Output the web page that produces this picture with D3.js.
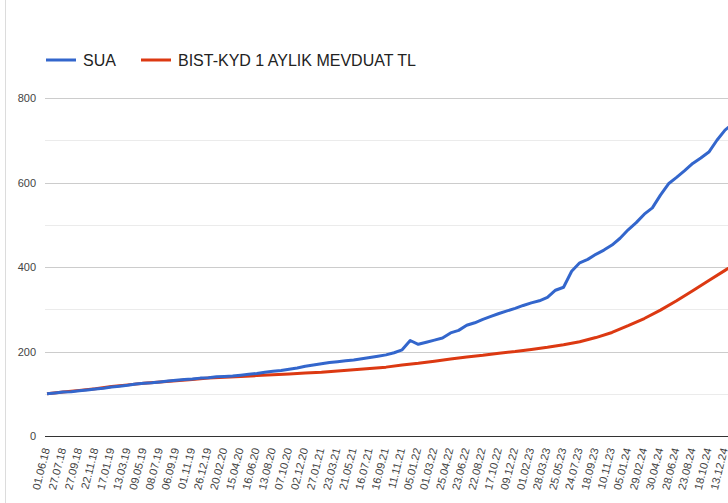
<!DOCTYPE html>
<html>
<head>
<meta charset="utf-8">
<script src="https://cdn.jsdelivr.net/npm/d3@7"></script>
<style>
  body { margin: 0; background: #fff; }
  svg { display: block; font-family: Arial, "Liberation Sans", sans-serif; }
</style>
</head>
<body>
<div id="chart"></div>
<script>
// tick labels on the x axis (one every ~40 trading days)
const dateLabels = [
  '01.06.18', '27.07.18', '27.09.18', '22.11.18', '17.01.19', '13.03.19', '09.05.19',
  '08.07.19', '06.09.19', '01.11.19', '26.12.19', '20.02.20', '15.04.20', '16.06.20',
  '13.08.20', '07.10.20', '02.12.20', '27.01.21', '23.03.21', '21.05.21', '16.07.21',
  '16.09.21', '11.11.21', '05.01.22', '01.03.22', '25.04.22', '23.06.22', '22.08.22',
  '17.10.22', '09.12.22', '01.02.23', '28.03.23', '25.05.23', '24.07.23', '18.09.23',
  '10.11.23', '05.01.24', '29.02.24', '30.04.24', '28.06.24', '23.08.24', '18.10.24',
  '13.12.24'
];

// SUA, read every half label step
const sua = [
  100, 102, 104, 105, 107, 109, 111, 113, 116, 118,
  120, 123, 125, 126, 128, 130, 132, 134, 135, 137,
  138, 140, 141, 142, 144, 146, 148, 151, 153, 155,
  158, 161, 165, 168, 171, 174, 176, 178, 180, 183,
  186, 189, 192, 197, 204, 226, 217, 222, 227, 232,
  244, 250, 262, 268, 276, 283, 290, 296, 302, 309,
  315, 320, 328, 345, 352, 390, 410, 418, 430, 440,
  452, 468, 488, 505, 525, 540, 570, 597, 612, 628,
  645, 658, 672, 700, 724, 740, 755
];

// BIST-KYD 1 aylik mevduat TL, read every label step
const mevduat = [
  100, 104, 108, 112, 117, 121, 125, 128, 131, 134,
  137, 139, 141, 143, 145, 147, 149, 151, 154, 157,
  160, 163, 168, 172, 177, 182, 187, 191, 196, 200,
  205, 210, 216, 223, 233, 245, 261, 278, 298, 320,
  344, 368, 392, 416
];

const yTicks = [0, 200, 400, 600, 800];
const yGrid = [100, 300, 500, 700];

const seriesNames = ['SUA', 'BIST-KYD 1 AYLIK MEVDUAT TL'];
const seriesColors = ['#3366cc', '#dc3912'];

const width = 728;
const height = 503;
const margin = { left: 47, top: 98, bottom: 436 };

const svg = d3.select('#chart').append('svg')
  .attr('width', width)
  .attr('height', height);

const x = d3.scaleLinear()
  .domain([0, dateLabels.length - 1])
  .range([margin.left, 725]);

const y = d3.scaleLinear()
  .domain([0, 800])
  .range([margin.bottom, margin.top]);

// left border
svg.append('line')
  .attr('x1', 5.5).attr('x2', 5.5)
  .attr('y1', 0).attr('y2', height)
  .attr('stroke', '#dcdcdc');

// gridlines
svg.append('g')
  .selectAll('line')
  .data(yGrid)
  .join('line')
  .attr('x1', 45).attr('x2', width)
  .attr('y1', d => Math.round(y(d)) + 0.5)
  .attr('y2', d => Math.round(y(d)) + 0.5)
  .attr('stroke', '#ebebeb');

svg.append('g')
  .selectAll('line')
  .data(yTicks.filter(d => d > 0))
  .join('line')
  .attr('x1', 45).attr('x2', width)
  .attr('y1', d => Math.round(y(d)) + 0.5)
  .attr('y2', d => Math.round(y(d)) + 0.5)
  .attr('stroke', '#cccccc');

// y labels
svg.append('g')
  .selectAll('text')
  .data(yTicks)
  .join('text')
  .attr('x', 36)
  .attr('y', d => y(d) + 4)
  .attr('text-anchor', 'end')
  .attr('font-size', 11)
  .attr('fill', '#444')
  .text(d => d);

// x labels
svg.append('g')
  .selectAll('text')
  .data(dateLabels)
  .join('text')
  .attr('transform', (d, i) => `translate(${x(i) + 3},449) rotate(-76)`)
  .attr('text-anchor', 'end')
  .attr('font-size', 11)
  .attr('fill', '#444')
  .text(d => d);

// lines
const line = d3.line()
  .x(d => x(d[0]))
  .y(d => y(d[1]));

const suaPts = sua.map((v, i) => [i / 2, v]);
const mevPts = mevduat.map((v, i) => [i, v]);

svg.append('path')
  .datum(mevPts)
  .attr('d', line)
  .attr('fill', 'none')
  .attr('stroke', seriesColors[1])
  .attr('stroke-width', 3)
  .attr('stroke-linejoin', 'round');

svg.append('path')
  .datum(suaPts)
  .attr('d', line)
  .attr('fill', 'none')
  .attr('stroke', seriesColors[0])
  .attr('stroke-width', 3)
  .attr('stroke-linejoin', 'round');

// baseline
svg.append('line')
  .attr('x1', 45).attr('x2', width)
  .attr('y1', y(0) + 0.5).attr('y2', y(0) + 0.5)
  .attr('stroke', '#333')
  .attr('stroke-width', 1);

// legend
const legendX = [46, 141];
const legend = svg.append('g')
  .selectAll('g')
  .data(seriesNames)
  .join('g')
  .attr('transform', (d, i) => `translate(${legendX[i]},60)`);

legend.append('line')
  .attr('x1', 0).attr('x2', 30)
  .attr('stroke', (d, i) => seriesColors[i])
  .attr('stroke-width', 3);

legend.append('text')
  .attr('x', 37)
  .attr('y', 5.5)
  .attr('font-size', 16)
  .attr('fill', '#222')
  .text(d => d);
</script>
</body>
</html>
